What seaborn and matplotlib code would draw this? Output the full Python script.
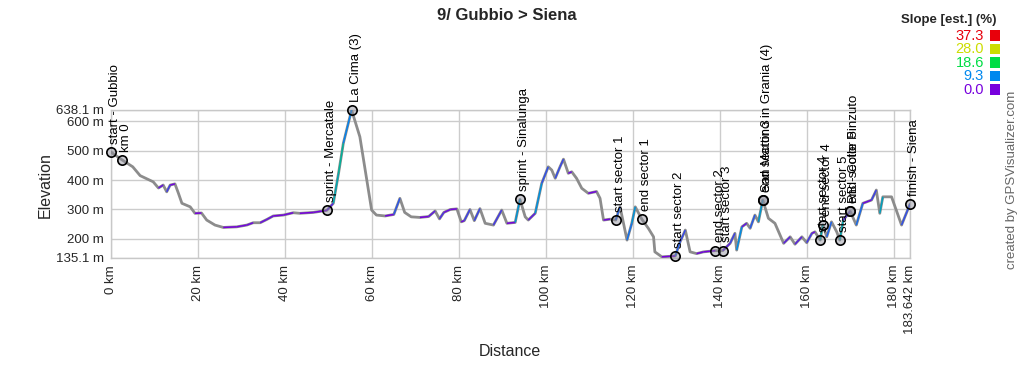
import numpy as np
import pandas as pd
import matplotlib
matplotlib.use("Agg")
import matplotlib.pyplot as plt
import seaborn as sns
from matplotlib.collections import LineCollection
from matplotlib.colors import LinearSegmentedColormap
from matplotlib.patches import Rectangle

# ---- data ----
dist_km = [0, 2.6, 5, 6.7, 9.7, 10.9, 12, 12.8, 13.6, 14.7, 15.5, 16.3, 18.2, 19.3, 20.8, 22,
           23.9, 25.8, 28.9, 31.2, 32.7, 34.3, 35.8, 37.3, 39.6, 41.9, 43.4, 46.5, 49.6, 51.1,
           52.3, 53.4, 55.3, 57.2, 58.8, 59.9, 61, 63, 65, 66.4, 67.5, 69, 71, 73, 74.5, 75.5,
           76.5, 78, 79.5, 80.5, 81.2, 82.5, 83.5, 84.8, 86, 87.9, 89.8, 91, 92.9, 94, 95.2,
           95.9, 97.5, 99, 100.5, 101.3, 102.1, 103.2, 104, 105.1, 105.9, 107, 108.2, 109.7,
           111.6, 112.4, 113.2, 114.7, 116, 117, 118.6, 119.7, 120.5, 122, 123.5, 124.7, 125,
           126.6, 129.7, 130.8, 132, 133.1, 134.6, 136.2, 138.9, 140.6, 142.3, 143.4, 143.8,
           145, 146.1, 146.9, 148, 148.8, 149.8, 151.1, 152.6, 154.6, 156.1, 157.2, 158.8,
           159.9, 161.1, 161.8, 163, 163.6, 164.5, 165.6, 166.8, 167.5, 168.3, 169.9, 171.3,
           172.8, 174.8, 175.9, 176.7, 177.4, 179.4, 181.7, 183.642]
elev_m = [495, 468, 445, 415, 394, 373, 383, 360, 383, 387, 355, 321, 309, 287, 288, 264,
          247, 239, 241, 247, 255, 255, 266, 278, 281, 289, 287, 290, 297, 321,
          423, 525, 638.1, 547, 400, 298, 281, 278, 283, 338, 290, 275, 273, 276, 295, 268,
          290, 300, 302, 258, 262, 300, 262, 303, 253, 247, 298, 253, 256, 334, 275,
          264, 287, 389, 445, 434, 406, 445, 471, 423, 428, 406, 372, 355,
          361, 338, 264, 267, 264, 309, 196, 253, 309, 267, 236, 207, 156,
          139, 142, 190, 230, 156, 150, 156, 160, 160, 185, 219, 162,
          241, 253, 236, 281, 258, 332, 270, 253, 185, 207, 182, 207,
          187, 219, 224, 196, 248, 207, 258, 224, 196, 264, 294, 247,
          321, 332, 366, 287, 343, 343, 247, 318]

wp_names = ["start - Gubbio", "km 0", "sprint - Mercatale", "La Cima (3)", "sprint - Sinalunga",
            "start sector 1", "end sector 1", "start sector 2", "end sector 2", "start sector 3",
            "San Martino in Grania (4)", "end sector 3", "start sector 4", "end sector 4",
            "start sector 5", "RB - Colle Pinzuto", "end sector 5", "finish - Siena"]
wp_dist = [0, 2.6, 49.6, 55.3, 94, 116, 122, 129.7, 138.9, 140.6,
           149.8, 149.8, 163, 163.6, 167.5, 169.9, 169.9, 183.642]
wp_elev = [495, 468, 297, 638.1, 334, 264, 267, 142, 160, 160,
           332, 332, 196, 248, 196, 294, 294, 318]

y_ticks = [135.1, 200, 300, 400, 500, 600, 638.1]
y_tick_labels = ["135.1 m", "200 m", "300 m", "400 m", "500 m", "600 m", "638.1 m"]
x_ticks = [0, 20, 40, 60, 80, 100, 120, 140, 160, 180, 183.642]
x_tick_labels = ["0 km", "20 km", "40 km", "60 km", "80 km", "100 km", "120 km",
                 "140 km", "160 km", "180 km", "183.642 km"]

legend_values = ["37.3", "28.0", "18.6", "9.3", "0.0"]
legend_colors = ["#e8000b", "#ccdd00", "#00dd44", "#0088ee", "#7700dd"]

# ---- style ----
sns.set_theme(style="white")
plt.rcParams["font.family"] = ["Liberation Sans", "DejaVu Sans"]

fig = plt.figure(figsize=(10.2, 3.7), dpi=100)
W, H = 1020, 370
ax = fig.add_axes([111 / W, 112 / H, 799 / W, 148 / H])

df = pd.DataFrame({"dist": dist_km, "elev": elev_m})

# gray base profile
sns.lineplot(data=df, x="dist", y="elev", ax=ax, color="#8c8c8c", lw=2.0,
             sort=False, zorder=3)

# slope-colored climbing segments (thin overlay)
slope_cmap = LinearSegmentedColormap.from_list(
    "slope", [(0.0, "#7700dd"), (0.25, "#0088ee"), (0.5, "#00dd44"),
              (0.75, "#ccdd00"), (1.0, "#e8000b")])
d = np.asarray(dist_km)
e = np.asarray(elev_m)
slopes = np.diff(e) / (np.diff(d) * 1000.0) * 100.0
segs = []
cols = []
for i, s in enumerate(slopes):
    if s > 0:
        segs.append([(d[i], e[i]), (d[i + 1], e[i + 1])])
        cols.append(slope_cmap(min(s / 37.3 * 1.5, 1.0)))
lc = LineCollection(segs, colors=cols, linewidths=1.1, zorder=4)
ax.add_collection(lc)

# waypoints
wp = pd.DataFrame({"dist": wp_dist, "elev": wp_elev})
sns.scatterplot(data=wp, x="dist", y="elev", ax=ax, s=45, marker="o",
                facecolor=(0.55, 0.55, 0.6, 0.45), edgecolor="black",
                linewidth=1.2, zorder=6, clip_on=False)
for name, x, y in zip(wp_names, wp_dist, wp_elev):
    ax.annotate(name, (x, y), xytext=(3, 6), textcoords="offset points",
                rotation=90, ha="center", va="bottom", fontsize=9.5,
                color="black", zorder=7, annotation_clip=False)

ax.set_xlim(0, 183.642)
ax.set_ylim(135.1, 638.1)
ax.set_xticks(x_ticks)
ax.set_xticklabels(x_tick_labels, rotation=90, fontsize=9.5)
ax.set_yticks(y_ticks)
ax.set_yticklabels(y_tick_labels, fontsize=9.5)
ax.set_xlabel("")
ax.set_ylabel("")
ax.tick_params(axis="both", length=3, width=0.8, color="#c8c8c8", pad=2)
for sp in ax.spines.values():
    sp.set_color("#c8c8c8")
    sp.set_linewidth(1.0)
ax.grid(True, color="#cccccc", lw=1.0)
ax.set_axisbelow(True)

# texts
fig.text(0.497, 1 - 15 / H, "9/ Gubbio > Siena", ha="center", va="center",
         fontsize=12, fontweight="bold")
fig.text(45 / W, 1 - 185 / H, "Elevation", rotation=90, ha="center", va="center",
         fontsize=11.5)
fig.text(510 / W, 1 - 352 / H, "Distance", ha="center", va="center", fontsize=11.5)
fig.text(1012 / W, 1 - 180 / H, "created by GPSVisualizer.com", rotation=90,
         ha="center", va="center", fontsize=9.5, color="#666666")

# slope legend
fig.text(997 / W, 1 - 20 / H, "Slope [est.] (%)", ha="right", va="center",
         fontsize=9.5, fontweight="bold")
for k, (val, col) in enumerate(zip(legend_values, legend_colors)):
    yc = 36 + k * 13.4
    fig.text(984 / W, 1 - yc / H, val, ha="right", va="center", fontsize=10.5,
             color=col)
    fig.add_artist(Rectangle((990 / W, 1 - (yc + 5) / H), 10.5 / W, 10.5 / H,
                             transform=fig.transFigure, color=col, lw=0))

fig.savefig("out.png", dpi=100)
